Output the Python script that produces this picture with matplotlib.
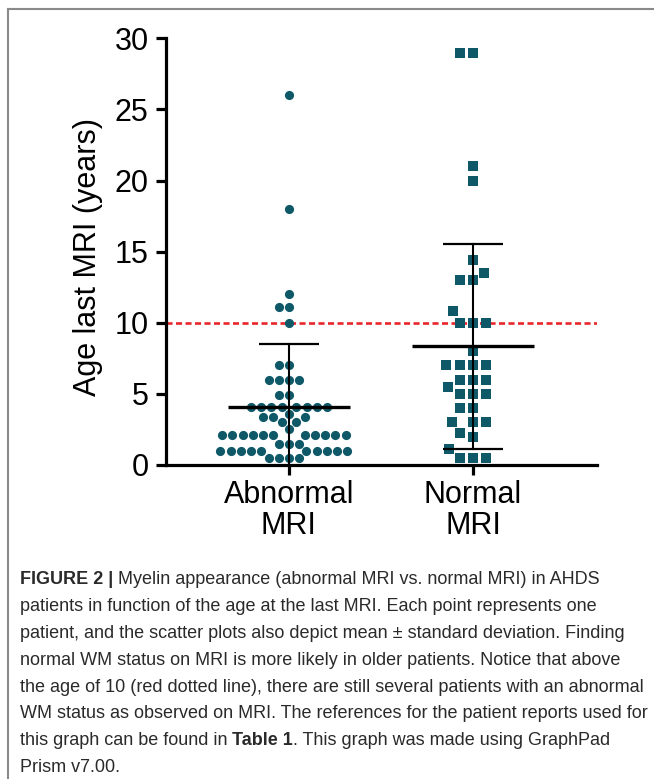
import numpy as np
import matplotlib
matplotlib.use("Agg")
from matplotlib import pyplot as plt
from matplotlib import font_manager
from matplotlib.lines import Line2D

# Age at last MRI (years)
abnormal_mri = [26, 18, 12, 11.1, 11.1, 10,
                7, 7,
                6, 6, 6, 6,
                4.9, 4.9,
                4.1, 4.1, 4.1, 4.1, 4.1, 4.1, 4.1, 4.1,
                3.6,
                3.4, 3.4, 3.4,
                3.0, 3.0,
                2.5,
                2.1, 2.1, 2.1, 2.1, 2.1, 2.1, 2.1, 2.1, 2.1, 2.1, 2.1,
                1.5, 1.5, 1.5,
                1.0, 1.0, 1.0, 1.0, 1.0, 1.0, 1.0, 1.0, 1.0, 1.0,
                0.5, 0.5, 0.5, 0.5]
normal_mri = [29, 29, 21, 20, 14.4, 13.5, 13, 13, 10.8,
              10, 10, 10, 8,
              7, 7, 7, 7,
              6, 6, 6, 5.5,
              5, 5, 5,
              4, 4,
              3, 3, 3,
              2.25, 2.0, 1.1,
              0.5, 0.5, 0.5]
groups = ["Abnormal\nMRI", "Normal\nMRI"]
threshold = 10

caption_lines = [
    [("FIGURE 2 |", "bold"), ("Myelin appearance (abnormal MRI vs. normal MRI) in AHDS", "normal")],
    [("patients in function of the age at the last MRI. Each point represents one", "normal")],
    [("patient, and the scatter plots also depict mean \u00b1 standard deviation. Finding", "normal")],
    [("normal WM status on MRI is more likely in older patients. Notice that above", "normal")],
    [("the age of 10 (red dotted line), there are still several patients with an abnormal", "normal")],
    [("WM status as observed on MRI. The references for the patient reports used for", "normal")],
    [("this graph can be found in", "normal"), ("Table 1", "bold"),
     (". This graph was made using GraphPad", "normal")],
    [("Prism v7.00.", "normal")],
]

plt.rcParams['font.family'] = ['Liberation Sans', 'DejaVu Sans']

W, H = 654, 779
fig = plt.figure(figsize=(W / 100, H / 100), dpi=100)

# axes box in pixels: x 166..597, y 38..465
ax = fig.add_axes([166 / W, 1 - 465 / H, (597 - 166) / W, (465 - 38.3) / H])
ax.set_xlim(-0.668, 1.674)
ax.set_ylim(0, 30)

px_x = ax.bbox.width / (1.674 + 0.668)
px_y = ax.bbox.height / 30


def swarm(vals, spacing):
    # simple beeswarm in pixel space, returns x offsets in data units
    ys = np.asarray(vals, float) * px_y
    xs = np.zeros(len(ys))
    placed = []
    for i in np.argsort(ys, kind="stable"):
        y = ys[i]
        near = [(px, py) for px, py in placed if abs(py - y) < spacing]
        cands = [0.0]
        for px, py in near:
            dx = np.sqrt(spacing ** 2 - (py - y) ** 2)
            cands += [px - dx, px + dx]
        cands.sort(key=lambda c: (abs(c), c))
        for c in cands:
            if all((c - px) ** 2 + (y - py) ** 2 >= spacing ** 2 - 1e-6 for px, py in near):
                xs[i] = c
                break
        placed.append((xs[i], y))
    return xs / px_x


teal = '#0f5868'
ax.axhline(threshold, color='#e8262b', lw=1.9, ls=(0, (2.3, 1.3)), zorder=2)

xa = 0 + swarm(abnormal_mri, 10.2)
ax.plot(xa, abnormal_mri, 'o', ms=6.6, color=teal, mec=teal, mew=0, zorder=3, clip_on=False)
xn = 1 + swarm(normal_mri, 13.3)
ax.plot(xn, normal_mri, 's', ms=6.8, color=teal, mec=teal, mew=0, zorder=3, clip_on=False)

# mean +/- SD
for pos, vals in [(0, abnormal_mri), (1, normal_mri)]:
    m = np.mean(vals)
    sd = np.std(vals, ddof=1)
    ax.plot([pos - 0.33, pos + 0.33], [m, m], color='black', lw=2.4, zorder=4, solid_capstyle='butt')
    ax.plot([pos, pos], [m - sd, m + sd], color='black', lw=1.5, zorder=4)
    for e in (m - sd, m + sd):
        ax.plot([pos - 0.165, pos + 0.165], [e, e], color='black', lw=1.6, zorder=4,
                solid_capstyle='butt')

for s in ['top', 'right']:
    ax.spines[s].set_visible(False)
for s in ['left', 'bottom']:
    ax.spines[s].set_linewidth(2.3)
ax.set_yticks([0, 5, 10, 15, 20, 25, 30])
ax.set_xticks([0, 1])
ax.set_xticklabels(groups, linespacing=1.05)
ax.tick_params(axis='both', length=7.5, width=2.3, labelsize=22, colors='black')
ax.tick_params(axis='y', pad=5)
ax.tick_params(axis='x', pad=3)

fig.text(88 / W, 1 - 257 / H, "Age last MRI (years)", rotation=90, ha='center', va='center',
         fontsize=22)

# frame around the figure panel (only top and left edges are inside the crop)
fig.add_artist(Line2D([7.5 / W, 7.5 / W], [0, 1 - 8.5 / H], color='#8a8a8a', lw=1.5))
fig.add_artist(Line2D([7.5 / W, 1], [1 - 8.5 / H, 1 - 8.5 / H], color='#8a8a8a', lw=1.5))


def has_font(name):
    try:
        font_manager.findfont(font_manager.FontProperties(family=name), fallback_to_default=False)
        return True
    except ValueError:
        return False


cap_family = ['Liberation Sans Narrow', 'DejaVu Sans'] if has_font('Liberation Sans Narrow') \
    else ['Liberation Sans', 'DejaVu Sans']
renderer = fig.canvas.get_renderer()

# fit the caption font size so the widest line matches the reference width
probe = fig.text(0, 0, caption_lines[2][0][0], fontsize=14, family=cap_family)
cap_size = 14 * 608 / probe.get_window_extent(renderer).width
probe.remove()


def text_width(s, weight):
    t = fig.text(0, 0, s, fontsize=cap_size, family=cap_family, fontweight=weight)
    w = t.get_window_extent(renderer).width
    t.remove()
    return w


space_w = text_width("a a", "normal") - text_width("aa", "normal")

base0, step = 584, 26.9
for k, runs in enumerate(caption_lines):
    x = 20.0
    y = 1 - (base0 + k * step) / H
    for j, (s, weight) in enumerate(runs):
        if j > 0 and not s.startswith('.'):
            x += space_w
        fig.text(x / W, y, s, fontsize=cap_size, family=cap_family, fontweight=weight,
                 color='#2a2a2a', va='baseline', ha='left')
        x += text_width(s, weight)

fig.savefig("out.png", dpi=100)
